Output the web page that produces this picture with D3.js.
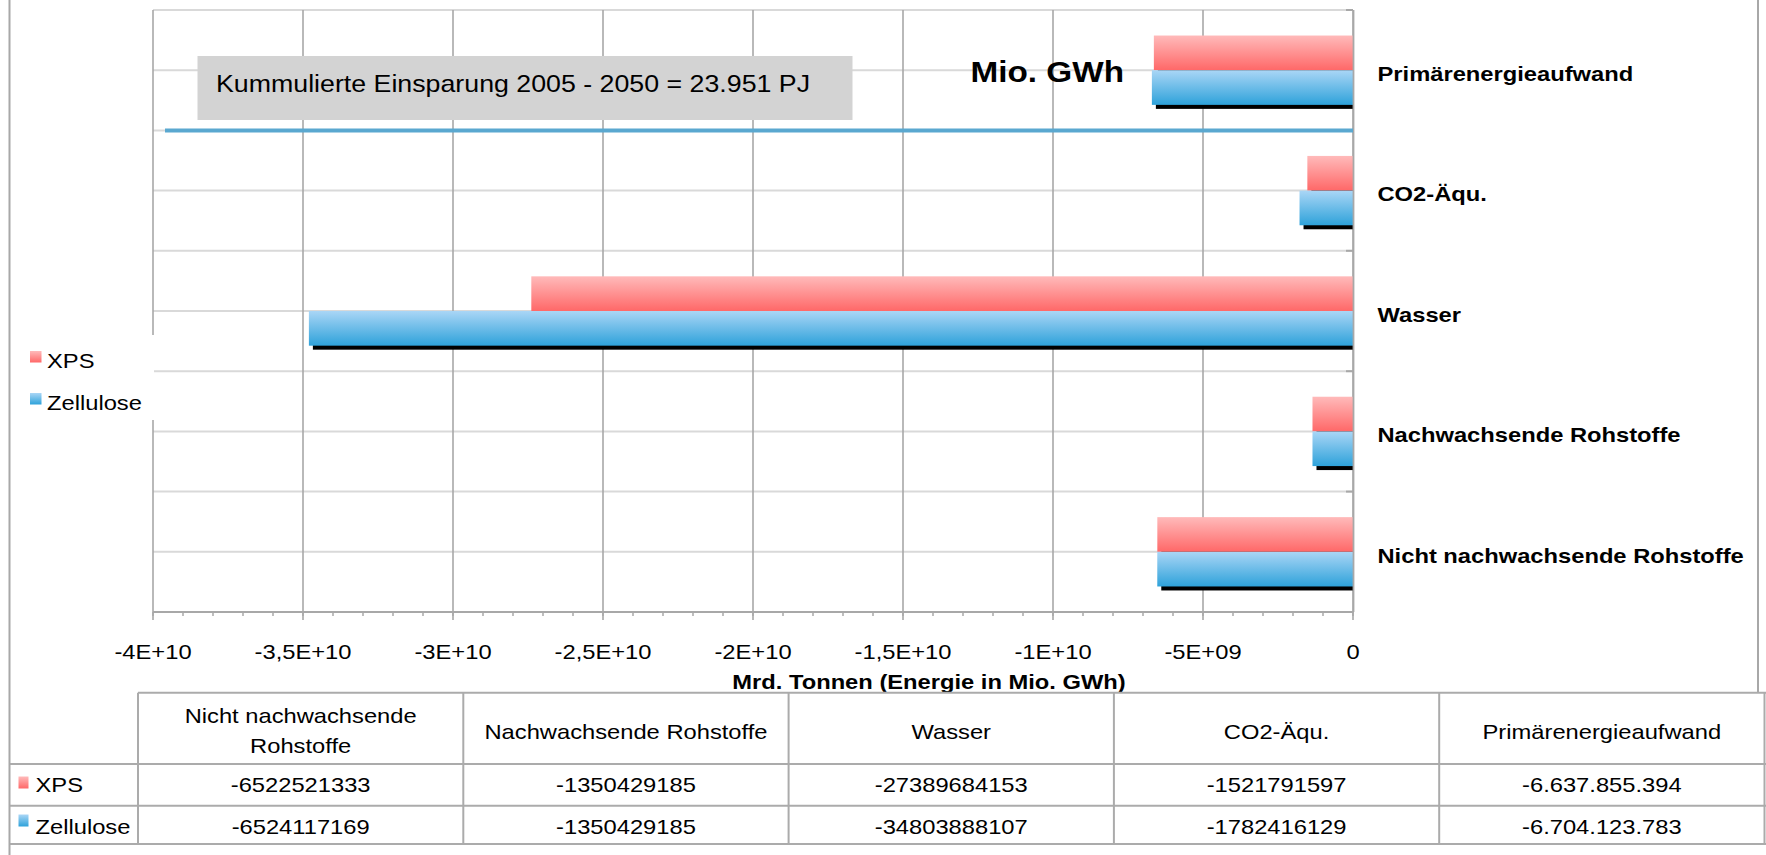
<!DOCTYPE html>
<html>
<head>
<meta charset="utf-8">
<script src="https://cdn.jsdelivr.net/npm/d3@7/dist/d3.min.js"></script>
<style>
  html, body { margin: 0; padding: 0; background: #fff; }
  svg { display: block; font-family: "Liberation Sans", Arial, sans-serif; }
</style>
</head>
<body>
<svg id="chart" width="1766" height="855"></svg>
<script>
// ---------------- DATA ----------------
const categories = ["Primärenergieaufwand", "CO2-Äqu.", "Wasser", "Nachwachsende Rohstoffe", "Nicht nachwachsende Rohstoffe"];
const seriesNames = ["XPS", "Zellulose"];
const xpsValues = [-6637855394, -1521791597, -27389684153, -1350429185, -6522521333];
const zelluloseValues = [-6704123783, -1782416129, -34803888107, -1350429185, -6524117169];
const xTickValues = [-4e10, -3.5e10, -3e10, -2.5e10, -2e10, -1.5e10, -1e10, -5e9, 0];
const xTickLabels = ["-4E+10", "-3,5E+10", "-3E+10", "-2,5E+10", "-2E+10", "-1,5E+10", "-1E+10", "-5E+09", "0"];
const xAxisTitle = "Mrd. Tonnen (Energie in Mio. GWh)";
const unitLabel = "Mio. GWh";
const annotationText = "Kummulierte Einsparung 2005 - 2050 = 23.951 PJ";
const separatorFrom = -3.96e10;   // start value of the blue separator line
const tableColumns = ["Nicht nachwachsende Rohstoffe", "Nachwachsende Rohstoffe", "Wasser", "CO2-Äqu.", "Primärenergieaufwand"];
const tableXps = ["-6522521333", "-1350429185", "-27389684153", "-1521791597", "-6.637.855.394"];
const tableZellulose = ["-6524117169", "-1350429185", "-34803888107", "-1782416129", "-6.704.123.783"];

// ---------------- SETUP ----------------
const SX = 1.13; // horizontal stretch of text seen in the reference
const svg = d3.select("#chart");
const FONT = 21;
const gridDark = "#a8a8a8", gridLight = "#d9d9d9";

function place(sel, x, y, sx) {
  return sel.attr("transform", `translate(${x},${y}) scale(${sx || SX},1)`);
}

const defs = svg.append("defs");
const gRed = defs.append("linearGradient").attr("id", "gradRed").attr("x1", 0).attr("y1", 0).attr("x2", 0).attr("y2", 1);
gRed.append("stop").attr("offset", "0%").attr("stop-color", "#ffbaba");
gRed.append("stop").attr("offset", "100%").attr("stop-color", "#ff6868");
const gBlue = defs.append("linearGradient").attr("id", "gradBlue").attr("x1", 0).attr("y1", 0).attr("x2", 0).attr("y2", 1);
gBlue.append("stop").attr("offset", "0%").attr("stop-color", "#aad6f6");
gBlue.append("stop").attr("offset", "100%").attr("stop-color", "#2ea2da");
const fillFor = { "XPS": "url(#gradRed)", "Zellulose": "url(#gradBlue)" };
const blur = defs.append("filter").attr("id", "lineShadow").attr("x", "-5%").attr("y", "-300%").attr("width", "110%").attr("height", "700%");
blur.append("feGaussianBlur").attr("stdDeviation", 2);

const plotLeft = 153, plotRight = 1353, plotTop = 10, plotBottom = 612;

const x = d3.scaleLinear().domain([xTickValues[0], xTickValues[xTickValues.length - 1]]).range([plotLeft, plotRight]);
const y = d3.scaleBand().domain(categories).range([plotTop, plotBottom]).paddingInner(0.424).paddingOuter(0.212);
const ys = d3.scaleBand().domain(seriesNames).range([0, y.bandwidth()]);

const rows = categories.map((c, i) => ({ cat: c, vals: [
  { s: "XPS", v: xpsValues[i] }, { s: "Zellulose", v: zelluloseValues[i] }] }));

// ---------------- OUTER FRAME ----------------
svg.append("line").attr("x1", 9.5).attr("x2", 9.5).attr("y1", 0).attr("y2", 855).attr("stroke", gridDark).attr("stroke-width", 2);
svg.append("line").attr("x1", 1758).attr("x2", 1758).attr("y1", 0).attr("y2", 693).attr("stroke", gridDark).attr("stroke-width", 2);

// ---------------- GRID ----------------
const grid = svg.append("g");
const gap = (y.step() - y.bandwidth()) / 2;
const hLines = [];
categories.forEach(c => { hLines.push(y(c) - gap); hLines.push(y(c) + y.bandwidth() / 2); });
hLines.push(y(categories[categories.length - 1]) + y.bandwidth() + gap);
grid.selectAll("line.h").data(hLines).join("line")
  .attr("x1", plotLeft).attr("x2", plotRight).attr("y1", d => d).attr("y2", d => d)
  .attr("stroke", gridLight).attr("stroke-width", 2);
grid.selectAll("line.v").data(xTickValues).join("line")
  .attr("x1", d => x(d)).attr("x2", d => x(d)).attr("y1", plotTop).attr("y2", plotBottom)
  .attr("stroke", gridDark).attr("stroke-width", 1.6);

// category ticks on the zero axis
const bounds = categories.map(c => y(c) - gap);
grid.selectAll("line.ct").data(bounds).join("line")
  .attr("x1", x(0) - 7).attr("x2", x(0)).attr("y1", d => d).attr("y2", d => d)
  .attr("stroke", gridDark).attr("stroke-width", 2);

// ---------------- X AXIS ----------------
const axisG = svg.append("g");
axisG.append("line").attr("x1", plotLeft).attr("x2", plotRight).attr("y1", plotBottom).attr("y2", plotBottom)
  .attr("stroke", gridDark).attr("stroke-width", 2);
const minorTicks = d3.range(xTickValues[0], 0.5e9, 1e9);
axisG.selectAll("line.mt").data(minorTicks).join("line")
  .attr("x1", d => x(d)).attr("x2", d => x(d)).attr("y1", plotBottom).attr("y2", plotBottom + 4)
  .attr("stroke", gridDark).attr("stroke-width", 1.5);
axisG.selectAll("line.Mt").data(xTickValues).join("line")
  .attr("x1", d => x(d)).attr("x2", d => x(d)).attr("y1", plotBottom).attr("y2", plotBottom + 8)
  .attr("stroke", gridDark).attr("stroke-width", 1.6);
axisG.selectAll("text.tl").data(xTickValues).join("text")
  .attr("text-anchor", "middle").attr("font-size", FONT).attr("fill", "#000")
  .text((d, i) => xTickLabels[i])
  .each(function (d) { place(d3.select(this), x(d), 659); });
place(axisG.append("text").attr("text-anchor", "middle").attr("font-size", FONT).attr("font-weight", "bold")
  .text(xAxisTitle), 929, 689);

// ---------------- BARS ----------------
const barsG = svg.append("g");
const groups = barsG.selectAll("g.cat").data(rows).join("g").attr("transform", d => `translate(0,${y(d.cat)})`);
// shadows
groups.selectAll("rect.sh").data(d => d.vals).join("rect")
  .attr("x", d => x(d.v) + 4).attr("y", d => ys(d.s) + 4)
  .attr("width", d => Math.max(0, x(0) - x(d.v) - 4)).attr("height", ys.bandwidth())
  .attr("fill", "#000");
groups.selectAll("rect.bar").data(d => d.vals).join("rect")
  .attr("x", d => x(d.v)).attr("y", d => ys(d.s))
  .attr("width", d => x(0) - x(d.v)).attr("height", ys.bandwidth())
  .attr("fill", d => fillFor[d.s]);

// right border of plot (zero axis)
svg.append("line").attr("x1", x(0) + 0.5).attr("x2", x(0) + 0.5).attr("y1", plotTop).attr("y2", plotBottom)
  .attr("stroke", gridDark).attr("stroke-width", 1.8);

// category labels
svg.selectAll("text.cl").data(categories).join("text")
  .attr("font-size", FONT).attr("font-weight", "bold").attr("fill", "#000")
  .text(d => d)
  .each(function (d) { place(d3.select(this), 1377.5, y(d) + y.bandwidth() / 2 + 10.7); });

// ---------------- SEPARATOR LINE ----------------
const sepY = y(categories[1]) - gap;
svg.append("line").attr("x1", x(separatorFrom)).attr("x2", x(0)).attr("y1", sepY + 4).attr("y2", sepY + 4)
  .attr("stroke", "rgba(0,0,0,0.28)").attr("stroke-width", 4).attr("filter", "url(#lineShadow)");
svg.append("line").attr("x1", x(separatorFrom)).attr("x2", x(0)).attr("y1", sepY).attr("y2", sepY)
  .attr("stroke", "#5aa8d0").attr("stroke-width", 4);

// ---------------- ANNOTATIONS ----------------
svg.append("rect").attr("x", 197.5).attr("y", 56).attr("width", 655).attr("height", 64).attr("fill", "#d3d3d3");
place(svg.append("text").attr("font-size", 24).attr("fill", "#000").text(annotationText), 216, 91.7, 1.115);
place(svg.append("text").attr("font-size", 30).attr("font-weight", "bold").attr("fill", "#000").text(unitLabel), 970.5, 81.7, 1.11);

// ---------------- LEGEND ----------------
svg.append("rect").attr("x", 12).attr("y", 335).attr("width", 142).attr("height", 85).attr("fill", "#fff");
const legendY = [351, 393];
seriesNames.forEach((s, i) => {
  svg.append("rect").attr("x", 30).attr("y", legendY[i]).attr("width", 11.5).attr("height", 11.5).attr("fill", fillFor[s]);
  place(svg.append("text").attr("font-size", FONT).attr("fill", "#000").text(s), 47, legendY[i] + 16.5);
});

// ---------------- DATA TABLE ----------------
const tbl = svg.append("g");
const tLeft = 10, tLabelRight = 138, tRight = 1766;
const colW = (1764.5 - tLabelRight) / tableColumns.length;
const rowTop = [692.7, 764, 805.7, 844];
const colX = d3.range(tableColumns.length + 1).map(i => tLabelRight + i * colW);
const lineC = "#ababab";
// horizontal lines
tbl.append("line").attr("x1", tLabelRight).attr("x2", tRight).attr("y1", rowTop[0]).attr("y2", rowTop[0]).attr("stroke", lineC).attr("stroke-width", 2);
[1, 2, 3].forEach(r => tbl.append("line").attr("x1", tLeft).attr("x2", tRight).attr("y1", rowTop[r]).attr("y2", rowTop[r]).attr("stroke", lineC).attr("stroke-width", 2));
// vertical lines
colX.forEach(cx => tbl.append("line").attr("x1", cx).attr("x2", cx).attr("y1", rowTop[0]).attr("y2", rowTop[3]).attr("stroke", lineC).attr("stroke-width", 2));
// header texts with wrapping
tableColumns.forEach((c, i) => {
  const cxm = colX[i] + colW / 2;
  const t = tbl.append("text").attr("font-size", FONT).attr("text-anchor", "middle").attr("fill", "#000").text(c);
  const w = t.node().getComputedTextLength() * SX;
  if (w > colW - 16) {
    t.remove();
    const words = c.split(" ");
    const lines = [words.slice(0, words.length - 1).join(" "), words[words.length - 1]];
    lines.forEach((ln, k) => {
      place(tbl.append("text").attr("font-size", FONT).attr("text-anchor", "middle").attr("fill", "#000").text(ln), cxm, 722.7 + k * 30.6);
    });
  } else {
    place(t, cxm, 739);
  }
});
const tableRows = [tableXps, tableZellulose];
const rowBase = [792, 834];
const swY = [776.5, 814.5];
seriesNames.forEach((s, r) => {
  tbl.append("rect").attr("x", 18.5).attr("y", swY[r]).attr("width", 10).attr("height", 12).attr("fill", fillFor[s]);
  place(tbl.append("text").attr("font-size", FONT).attr("fill", "#000").text(s), 35.5, rowBase[r]);
  tableRows[r].forEach((v, i) => {
    place(tbl.append("text").attr("font-size", FONT).attr("text-anchor", "middle").attr("fill", "#000").text(v), colX[i] + colW / 2, rowBase[r]);
  });
});
</script>
</body>
</html>
